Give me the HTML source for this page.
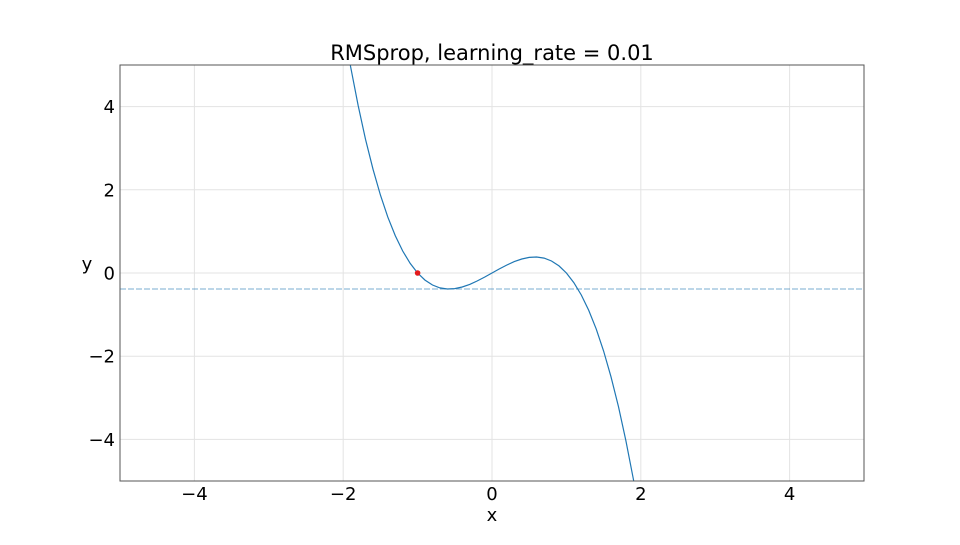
<!DOCTYPE html>
<html><head><meta charset="utf-8"><style>
body{margin:0;background:#fff;}
svg{font-family:"DejaVu Sans","Liberation Sans",sans-serif;}
</style></head><body>
<svg id="chart" width="960" height="540">
<text x="492" y="60" font-size="21" text-anchor="middle">RMSprop, learning_rate = 0.01</text>
<g id="grid"></g>
<g id="ticks"></g>
<line id="hline" stroke="#1f77b4" stroke-opacity="0.6" stroke-width="1" stroke-dasharray="6,2"/>
<clipPath id="clip"><rect x="120" y="65" width="744" height="416"/></clipPath>
<path id="curve" fill="none" stroke="#1f77b4" stroke-width="1.2" clip-path="url(#clip)"/>
<circle id="pt" r="2.8" fill="#e31a1c"/>
<rect x="120" y="65" width="744" height="416" fill="none" stroke="#555" stroke-width="1"/>
<text x="492" y="521" font-size="18" text-anchor="middle">x</text>
<text x="87" y="270" font-size="18" text-anchor="middle">y</text>
</svg>
<script>
const xTicks=[-4,-2,0,2,4];
const yTicks=[-4,-2,0,2,4];
const curveX=[-2.0,-1.9,-1.8,-1.7,-1.6,-1.5,-1.4,-1.3,-1.2,-1.1,-1.0,-0.9,-0.8,-0.7,-0.6,-0.5,-0.4,-0.3,-0.2,-0.1,0,0.1,0.2,0.3,0.4,0.5,0.6,0.7,0.8,0.9,1.0,1.1,1.2,1.3,1.4,1.5,1.6,1.7,1.8,1.9,2.0];
const curveY=[6.0,4.959,4.032,3.213,2.496,1.875,1.344,0.897,0.528,0.231,0,-0.171,-0.288,-0.357,-0.384,-0.375,-0.336,-0.273,-0.192,-0.099,0,0.099,0.192,0.273,0.336,0.375,0.384,0.357,0.288,0.171,0,-0.231,-0.528,-0.897,-1.344,-1.875,-2.496,-3.213,-4.032,-4.959,-6.0];
const pointX=[-1.0];
const pointY=[0];
const minY=[-0.385];
const X=v=>120+(v+5)*74.4;
const Y=v=>273-v*41.6;
const ns="http://www.w3.org/2000/svg";
const grid=document.getElementById('grid'),ticks=document.getElementById('ticks');
xTicks.forEach(t=>{
 const l=document.createElementNS(ns,'line');
 l.setAttribute('x1',X(t));l.setAttribute('x2',X(t));l.setAttribute('y1',65);l.setAttribute('y2',481);
 l.setAttribute('stroke','#e3e3e3');
 
 
 grid.appendChild(l);
 const tx=document.createElementNS(ns,'text');
 tx.setAttribute('x',X(t));tx.setAttribute('y',500);tx.setAttribute('font-size','18');tx.setAttribute('text-anchor','middle');
 tx.textContent=(t<0?'\u2212':'')+Math.abs(t);
 
 
 ticks.appendChild(tx);
});
yTicks.forEach(t=>{
 const l=document.createElementNS(ns,'line');
 l.setAttribute('x1',120);l.setAttribute('x2',864);l.setAttribute('y1',Y(t));l.setAttribute('y2',Y(t));
 l.setAttribute('stroke','#e3e3e3');
 
 
 grid.appendChild(l);
 const tx=document.createElementNS(ns,'text');
 tx.setAttribute('x',115);tx.setAttribute('y',Y(t)+6.5);tx.setAttribute('font-size','18');tx.setAttribute('text-anchor','end');
 tx.textContent=(t<0?'\u2212':'')+Math.abs(t);
 
 
 ticks.appendChild(tx);
});
const h=document.getElementById('hline');
h.setAttribute('x1',120);h.setAttribute('x2',864);h.setAttribute('y1',Y(minY[0]));h.setAttribute('y2',Y(minY[0]));
let d='';
for(let i=0;i<curveX.length;i++){d+=(i?'L':'M')+X(curveX[i]).toFixed(1)+','+Y(curveY[i]).toFixed(1);}
document.getElementById('curve').setAttribute('d',d);
const p=document.getElementById('pt');
p.setAttribute('cx',X(pointX[0]));p.setAttribute('cy',Y(pointY[0]));
</script>
</body></html>
